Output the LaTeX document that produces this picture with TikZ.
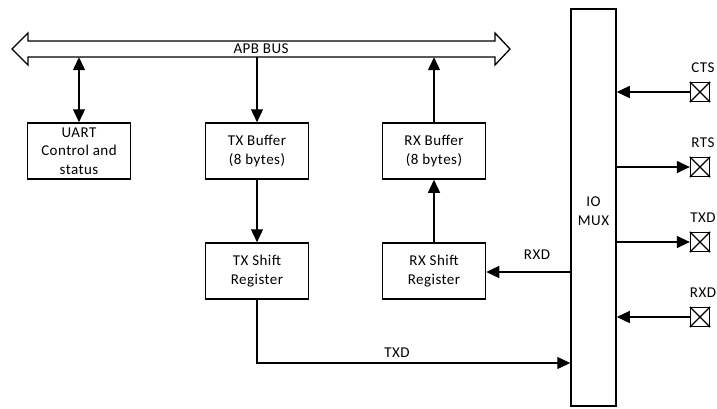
\documentclass[tikz,border=0pt]{standalone}
\usepackage{fontspec}
\setmainfont{Carlito}[LetterSpace=3]
\usetikzlibrary{arrows.meta}
\begin{document}
\begin{tikzpicture}[x=1pt,y=-1pt,
  box/.style={draw,line width=1.5pt,minimum width=103pt,minimum height=56pt,align=center,inner sep=0pt,font=\fontsize{15}{18.5}\selectfont},
  conn/.style={line width=1.3pt},
  arr/.style={conn,-{Triangle[length=13pt,width=12pt]}},
  darr/.style={conn,{Triangle[length=13pt,width=12pt]}-{Triangle[length=13pt,width=12pt]}},
  pin/.style={draw,line width=1.3pt,minimum size=19pt,inner sep=0pt},
  lbl/.style={font=\fontsize{15}{16}\selectfont,inner sep=0pt}]
\useasboundingbox (0,0) rectangle (717,408);
% bus
\node[minimum width=467pt,minimum height=16pt,inner sep=0pt,font=\fontsize{15}{16}\selectfont] (bus) at (261,49) {APB BUS};
\draw[line width=1.3pt,line join=miter] (12,49) -- (28,33) -- (28,41) -- (495,41) -- (495,33) -- (510,49) -- (495,65) -- (495,57) -- (28,57) -- (28,65) -- cycle;
% boxes
\node[box] (uart) at (79,151) {UART\\Control and\\status};
\node[box] (txb) at (257,151) {TX Buffer\\(8 bytes)};
\node[box] (rxb) at (434,151) {RX Buffer\\(8 bytes)};
\node[box] (txs) at (257,271) {TX Shift\\Register};
\node[box] (rxs) at (434,271) {RX Shift\\Register};
\node[draw,line width=1.5pt,minimum width=45pt,minimum height=397pt,inner sep=0pt] (mux) at (593.5,207.5) {};
\node[lbl,align=center,font=\fontsize{15}{19}\selectfont] (muxt) at (593.5,211) {IO\\MUX};
% bus connections
\draw[darr] (uart.north) -- (uart.north |- bus.south);
\draw[arr] (txb.north |- bus.south) -- (txb.north);
\draw[arr] (rxb.north) -- (rxb.north |- bus.south);
\draw[arr] (txb.south) -- (txs.north);
\draw[arr] (rxs.north) -- (rxb.south);
% internal RXD / TXD
\coordinate (rxdy) at (0,272);
\draw[arr] (mux.west |- rxdy) -- (rxs.east |- rxdy);
\node[lbl] (rxdl) at (537,255) {RXD};
\coordinate (txdc) at (257,363);
\draw[arr] (txs.south) -- (txs.south |- txdc) -- (mux.west |- txdc);
\node[lbl] (txdl) at (397,353) {TXD};
% pins
\node[pin] (pcts) at (700,92) {};
\node[pin] (prts) at (700,167) {};
\node[pin] (ptxd) at (700,242) {};
\node[pin] (prxd) at (700,317) {};
\foreach \p in {pcts,prts,ptxd,prxd}{
  \draw[line width=1.1pt] (\p.north west) -- (\p.south east) (\p.north east) -- (\p.south west);
}
\node[lbl] (lcts) at (703,68) {CTS};
\node[lbl] (lrts) at (703,143) {RTS};
\node[lbl] (ltxd) at (703,218) {TXD};
\node[lbl] (lrxd) at (703,293) {RXD};
\draw[arr] (pcts.west) -- (mux.east |- pcts);
\draw[arr] (mux.east |- prts) -- (prts.west);
\draw[arr] (mux.east |- ptxd) -- (ptxd.west);
\draw[arr] (prxd.west) -- (mux.east |- prxd);
\end{tikzpicture}
\end{document}
